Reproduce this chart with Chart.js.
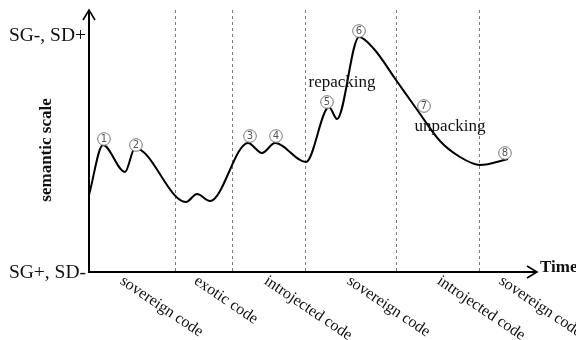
<!DOCTYPE html>
<html>
<head>
<meta charset="utf-8">
<script src="https://cdn.jsdelivr.net/npm/chart.js@4.4.0/dist/chart.umd.min.js"></script>
<style>
html, body { margin: 0; padding: 0; background: #fff; }
#wrap { width: 576px; height: 340px; }
</style>
</head>
<body>
<div id="wrap"><canvas id="wave"></canvas></div>
<script>
// time (x) and semantic scale (y) of the wave
var timeX    = [0, 14, 36, 46, 97, 108, 121, 159, 173, 186, 217, 240, 248, 270, 285, 307, 329, 351, 371, 391, 419];
var semantic = [77, 127, 100, 124, 70, 78, 71, 129, 119, 129, 110, 165, 153, 235, 223, 192, 161, 131, 115, 107, 113];

// phase boundaries (dashed lines) and the code names under the axis
var boundaries = [86, 143, 216, 307, 390];
var codeNames  = ['sovereign code', 'exotic code', 'introjected code', 'sovereign code', 'introjected code', 'sovereign code'];
var codeStart  = [37, 111, 181, 264, 354, 416];

// circled numbers
var markNo = ['1', '2', '3', '4', '5', '6', '7', '8'];
var markX  = [15, 47, 161, 187, 238, 270, 335, 416];
var markY  = [133, 127, 136, 136, 170, 241, 166, 119];

// other notes
var notes  = ['repacking', 'unpacking'];
var noteX  = [253, 361];
var noteY  = [189, 145];

var yTopLabel = 'SG-, SD+';
var yBottomLabel = 'SG+, SD-';

var X_MAX = 448, Y_MAX = 262;
var serif = '"Liberation Serif", "Times New Roman", serif';

var points = timeX.map(function (t, i) { return { x: t, y: semantic[i] }; });

var waveDecor = {
    id: 'waveDecor',
    beforeDatasetsDraw: function (chart) {
        var ctx = chart.ctx, xs = chart.scales.x, ys = chart.scales.y;
        var x0 = xs.getPixelForValue(0), y0 = ys.getPixelForValue(0);
        var yTop = ys.getPixelForValue(Y_MAX), xEnd = xs.getPixelForValue(X_MAX);
        ctx.save();
        // dashed phase lines
        ctx.strokeStyle = '#7a7a7a';
        ctx.lineWidth = 1;
        ctx.setLineDash([3, 3]);
        boundaries.forEach(function (b) {
            var px = Math.round(xs.getPixelForValue(b)) + 0.5;
            ctx.beginPath();
            ctx.moveTo(px, yTop);
            ctx.lineTo(px, y0);
            ctx.stroke();
        });
        ctx.setLineDash([]);
        // axes with arrows
        ctx.strokeStyle = '#000';
        ctx.lineWidth = 2;
        ctx.beginPath();
        ctx.moveTo(x0, y0); ctx.lineTo(x0, yTop);
        ctx.moveTo(x0 - 1, y0); ctx.lineTo(xEnd, y0);
        ctx.stroke();
        ctx.lineWidth = 1.6;
        ctx.beginPath();
        ctx.moveTo(x0 - 6, yTop + 10); ctx.lineTo(x0, yTop); ctx.lineTo(x0 + 6, yTop + 10);
        ctx.moveTo(xEnd - 10, y0 - 6); ctx.lineTo(xEnd, y0); ctx.lineTo(xEnd - 10, y0 + 6);
        ctx.stroke();
        ctx.restore();
    },
    afterDraw: function (chart) {
        var ctx = chart.ctx, xs = chart.scales.x, ys = chart.scales.y;
        var x0 = xs.getPixelForValue(0), y0 = ys.getPixelForValue(0);
        var xEnd = xs.getPixelForValue(X_MAX);
        ctx.save();
        ctx.fillStyle = '#111';

        // y end labels
        ctx.font = '19.5px ' + serif;
        ctx.textAlign = 'right';
        ctx.textBaseline = 'middle';
        ctx.fillText(yTopLabel, x0 - 3, 36);
        ctx.fillText(yBottomLabel, x0 - 3, y0 + 1);

        // y title
        ctx.save();
        ctx.translate(47, 150);
        ctx.rotate(-Math.PI / 2);
        ctx.font = 'bold 17px ' + serif;
        ctx.textAlign = 'center';
        ctx.fillText('semantic scale', 0, 0);
        ctx.restore();

        // x title
        ctx.font = 'bold 17px ' + serif;
        ctx.textAlign = 'left';
        ctx.fillText('Time', xEnd + 3, y0 - 4);

        // code names, slanted
        ctx.font = '16px ' + serif;
        ctx.textBaseline = 'top';
        codeNames.forEach(function (name, i) {
            ctx.save();
            ctx.translate(xs.getPixelForValue(codeStart[i]), y0 + 1);
            ctx.rotate(34 * Math.PI / 180);
            ctx.fillText(name, 0, 0);
            ctx.restore();
        });

        // notes
        ctx.font = '17px ' + serif;
        ctx.textAlign = 'center';
        ctx.textBaseline = 'middle';
        notes.forEach(function (n, i) {
            ctx.fillText(n, xs.getPixelForValue(noteX[i]), ys.getPixelForValue(noteY[i]));
        });

        // circled numbers
        ctx.strokeStyle = '#777';
        ctx.lineWidth = 1;
        ctx.font = '10px "DejaVu Sans", sans-serif';
        markNo.forEach(function (n, i) {
            var px = xs.getPixelForValue(markX[i]), py = ys.getPixelForValue(markY[i]);
            ctx.fillStyle = '#fff';
            ctx.beginPath();
            ctx.arc(px, py, 6.3, 0, Math.PI * 2);
            ctx.fill();
            ctx.stroke();
            ctx.fillStyle = '#555';
            ctx.fillText(n, px, py + 0.5);
        });
        ctx.restore();
    }
};

new Chart(document.getElementById('wave'), {
    type: 'line',
    data: {
        datasets: [{
            data: points,
            borderColor: '#000',
            borderWidth: 2,
            pointRadius: 0,
            cubicInterpolationMode: 'monotone',
            fill: false,
            clip: false
        }]
    },
    options: {
        responsive: true,
        maintainAspectRatio: false,
        animation: false,
        layout: { padding: { left: 89, right: 39, top: 10, bottom: 68 } },
        plugins: { legend: { display: false }, tooltip: { enabled: false } },
        scales: {
            x: { type: 'linear', min: 0, max: X_MAX, display: false },
            y: { min: 0, max: Y_MAX, display: false }
        }
    },
    plugins: [waveDecor]
});
</script>
</body>
</html>
